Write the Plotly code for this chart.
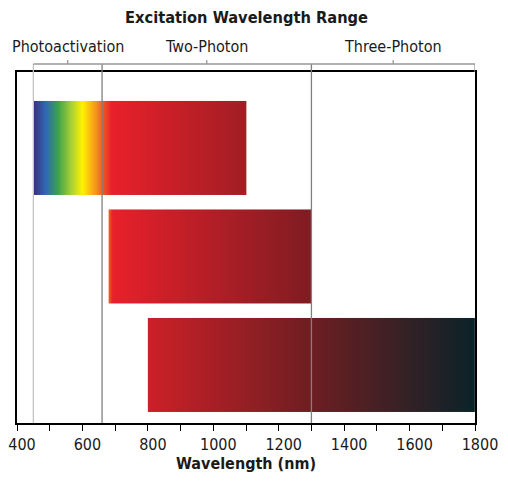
import numpy as np
import plotly.graph_objects as go

# ---- data ----
bar_rows = [1, 2, 3]
bar_starts = [450, 680, 800]
bar_ends = [1100, 1300, 1800]
# gradient stops (wavelength, colour) for each bar
bar_gradients = [
    [(450, "#3b2c86"), (490, "#2f6cb4"), (525, "#3aa24a"), (565, "#a6cf38"),
     (600, "#fff200"), (640, "#f7941d"), (662, "#f15a24"), (690, "#e8202a"),
     (1100, "#a11e24")],
    [(680, "#f26522"), (692, "#e8202a"), (1300, "#7e1c22")],
    [(800, "#cc2027"), (1300, "#6e1e22"), (1800, "#0a2328")],
]
region_bounds = [450, 660, 1300, 1800]
region_labels = ["Photoactivation", "Two-Photon", "Three-Photon"]
region_line_colors = ["#c4c4c4", "#808080", "#808080"]
x_ticks = [400, 600, 800, 1000, 1200, 1400, 1600, 1800]

FONT = "Liberation Sans Narrow, DejaVu Sans Condensed, Arial Narrow, sans-serif"
TXT = "#1a1a1a"
half_h = 0.433

fig = go.Figure()
for row, s, e, grad in zip(bar_rows, bar_starts, bar_ends, bar_gradients):
    edges = np.linspace(s, e, 301)
    mids = (edges[:-1] + edges[1:]) / 2
    cs = [[(w - s) / (e - s), c] for w, c in grad]
    fig.add_trace(go.Heatmap(
        x=edges, y=[row - half_h, row + half_h], z=[mids],
        zmin=s, zmax=e, colorscale=cs, showscale=False,
        hoverinfo="skip", zsmooth=False,
    ))

plot_h = 476 - 64 - 61
bracket_y = 1 + 8 / plot_h
tick_top = 1 + 12 / plot_h
label_y = 1 + 26 / plot_h

shapes = []
for b, col in zip(region_bounds[:-1], region_line_colors):
    shapes.append(dict(type="line", xref="x", yref="paper", x0=b, x1=b,
                       y0=0, y1=bracket_y, line=dict(color=col, width=1.3),
                       layer="above"))
# right end of bracket
shapes.append(dict(type="line", xref="x", yref="paper", x0=region_bounds[-1],
                   x1=region_bounds[-1], y0=1, y1=bracket_y,
                   line=dict(color="#999999", width=1.3)))
# bracket horizontal
shapes.append(dict(type="line", xref="x", yref="paper", x0=region_bounds[0],
                   x1=region_bounds[-1], y0=bracket_y, y1=bracket_y,
                   line=dict(color="#999999", width=1.3)))
annotations = []
for i, lab in enumerate(region_labels):
    mid = (region_bounds[i] + region_bounds[i + 1]) / 2
    shapes.append(dict(type="line", xref="x", yref="paper", x0=mid, x1=mid,
                       y0=bracket_y, y1=tick_top,
                       line=dict(color="#999999", width=1.3)))
    annotations.append(dict(x=mid, y=label_y, xref="x", yref="paper",
                            text=lab, showarrow=False, yanchor="middle",
                            font=dict(family=FONT, size=16, color=TXT)))

annotations.append(dict(x=1100, y=1 + 55 / plot_h, xref="x", yref="paper",
                        text="<b>Excitation Wavelength Range</b>",
                        showarrow=False, yanchor="middle",
                        font=dict(family=FONT, size=16.3, color=TXT)))

fig.update_layout(
    width=500, height=476,
    margin=dict(l=9, r=33, t=64, b=61, autoexpand=False),
    plot_bgcolor="white", paper_bgcolor="white",
    shapes=shapes, annotations=annotations, showlegend=False,
    font=dict(family=FONT, color=TXT),
)
fig.update_xaxes(
    range=[400, 1800], tickvals=x_ticks, ticks="outside", ticklen=6,
    tickcolor="black", tickwidth=1.3, automargin=False,
    ticklabeloverflow="allow", ticklabelshift=5,
    minor=dict(dtick=100, ticks="outside", ticklen=6, tickcolor="black", tickwidth=1.3),
    showline=True, linecolor="black", linewidth=1.5, mirror=True,
    showgrid=False, zeroline=False,
    tickfont=dict(family=FONT, size=16, color=TXT),
    title=dict(text="<b>Wavelength (nm)</b>", standoff=4,
               font=dict(family=FONT, size=16, color=TXT)),
)
fig.update_yaxes(
    range=[3.535, 0.30], showticklabels=False, ticks="", automargin=False,
    showline=True, linecolor="black", linewidth=1.5, mirror=True,
    showgrid=False, zeroline=False,
)
fig.write_html("out.html")
